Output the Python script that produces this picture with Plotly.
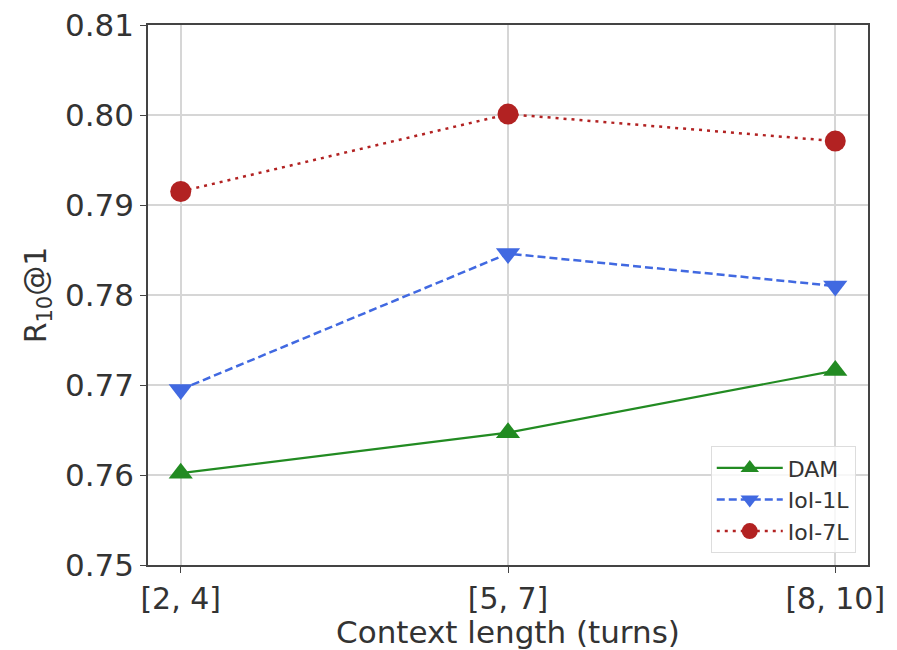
import plotly.graph_objects as go

categories = ["[2, 4]", "[5, 7]", "[8, 10]"]
dam = [0.7602, 0.7647, 0.7716]
ioi_1l = [0.7695, 0.7846, 0.7810]
ioi_7l = [0.7915, 0.8001, 0.7971]

xpos = list(range(len(categories)))

fig = go.Figure()
fig.add_trace(go.Scatter(x=xpos, y=dam, name="DAM", mode="lines+markers",
                         line=dict(color="#228B22", width=2.2, dash="solid"),
                         marker=dict(symbol="triangle-up", size=21, color="#228B22")))
fig.add_trace(go.Scatter(x=xpos, y=ioi_1l, name="IoI-1L", mode="lines+markers",
                         line=dict(color="#4169E1", width=2.5, dash="8px,4px"),
                         marker=dict(symbol="triangle-down", size=21, color="#4169E1")))
fig.add_trace(go.Scatter(x=xpos, y=ioi_7l, name="IoI-7L", mode="lines+markers",
                         line=dict(color="#B22222", width=2.5, dash="3px,5px"),
                         marker=dict(symbol="circle", size=21, color="#B22222")))

font = "DejaVu Sans"
fig.update_layout(
    width=889, height=642,
    margin=dict(l=140, r=29, t=17, b=85, autoexpand=False),
    plot_bgcolor="white", paper_bgcolor="white",
    font=dict(family=font, color="#333333", size=32),
    showlegend=True,
    legend=dict(x=0.983, y=0.022, xanchor="right", yanchor="bottom",
                bgcolor="rgba(255,255,255,0.8)", bordercolor="#dddddd", borderwidth=1,
                font=dict(size=22, family=font), itemwidth=66, tracegroupgap=2),
    xaxis=dict(range=[-0.1, 2.1], tickvals=xpos, ticktext=categories,
               showgrid=True, gridcolor="#d6d6d6", gridwidth=2,
               showline=True, linecolor="#444444", linewidth=1.5, mirror=True,
               ticks="outside", ticklen=6, tickcolor="#444444",
               tickfont=dict(size=30), ticklabeloverflow="allow", automargin=False,
               title=dict(text="Context length (turns)", font=dict(size=31), standoff=4),
               zeroline=False),
    yaxis=dict(range=[0.75, 0.81], dtick=0.01, tickformat=".2f",
               showgrid=True, gridcolor="#d6d6d6", gridwidth=2,
               showline=True, linecolor="#444444", linewidth=1.5, mirror=True,
               ticks="outside", ticklen=6, tickcolor="#444444",
               tickfont=dict(size=31), ticklabeloverflow="allow", automargin=False,
               title=dict(text="R<sub>10</sub>@1", font=dict(size=30), standoff=10),
               zeroline=False),
)

fig.write_html("out.html")
